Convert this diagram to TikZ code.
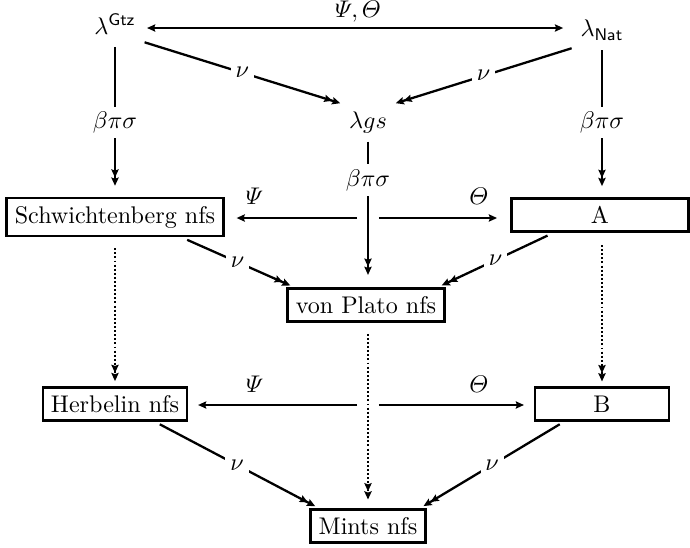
\documentclass[tikz,border=0pt]{standalone}
\usepackage{amsmath}
\usetikzlibrary{arrows.meta}
\tikzset{
  obj/.style={inner sep=3pt},
  nbox/.style={draw, line width=1.15pt, inner sep=3.33pt},
  tiptwo/.style={-{Stealth[length=3.4pt,width=3pt,inset=0.5pt]Stealth[length=3.4pt,width=3pt,inset=0.5pt]}},
  tipone/.style={-{Stealth[length=3.4pt,width=3pt,inset=0.5pt]}},
  arr/.style={line width=0.95pt},
  dotline/.style={line width=0.95pt, dash pattern=on 0.8pt off 0.9pt},
  lab/.style={fill=white, inner sep=2pt},
  olab/.style={inner sep=0pt},
}
\begin{document}
\begin{tikzpicture}[x=0.415pt,y=-0.415pt]
\path[use as bounding box] (0,0) rectangle (690,548);
% objects
\node[obj] (gtz) at (115,24) {$\lambda^{\mathsf{Gtz}}$};
\node[obj] (nat) at (602,30) {$\lambda_{\mathsf{Nat}}$};
\node[obj] (lgs) at (368,122) {$\lambda gs$};
\node[nbox] (schw) at (115,217) {Schwichtenberg nfs};
\node[nbox, minimum width=73.5pt, minimum height=13.6pt] (A) at (600,215) {A};
\node[nbox] (vp) at (366,305) {von Plato nfs};
\node[nbox] (herb) at (115,404) {Herbelin nfs};
\node[nbox, minimum width=55.6pt, minimum height=13.6pt] (B) at (602,404) {B};
\node[nbox] (mints) at (368,526) {Mints nfs};
\coordinate (c0) at (368,28);
\coordinate (c1) at (368,218);
\coordinate (c2) at (368,405);
% top arrow
\draw[arr,{Stealth[length=3.4pt,width=3pt,inset=0.5pt]}-{Stealth[length=3.4pt,width=3pt,inset=0.5pt]},shorten <=1.5pt,shorten >=4pt]
  (gtz.east |- c0) -- node[olab,above=2pt]{$\varPsi,\varTheta$} (nat.west |- c0);
% diagonals nu
\draw[arr,tiptwo,shorten <=0.5pt,shorten >=0.5pt] (gtz.south east) -- node[lab]{$\nu$} (lgs.north west);
\draw[arr,tiptwo,shorten <=0.5pt,shorten >=0.5pt] (nat.south west) -- node[lab]{$\nu$} (lgs.north east);
\draw[arr,tiptwo,shorten <=2.5pt,shorten >=1.5pt] (schw.-17) -- node[lab]{$\nu$} (vp.166);
\draw[arr,tiptwo,shorten <=2.5pt,shorten >=1.5pt] (A.201) -- node[lab]{$\nu$} (vp.14);
\draw[arr,tiptwo,shorten <=2pt,shorten >=1.5pt] (herb.-24) -- node[lab]{$\nu$} (mints.160);
\draw[arr,tiptwo,shorten <=2pt,shorten >=1.5pt] (B.205) -- node[lab]{$\nu$} (mints.19);
% verticals
\draw[arr,tiptwo,shorten <=2pt,shorten >=4.5pt] (gtz.south) -- node[lab,pos=0.52]{$\beta\pi\sigma$} (gtz.south |- schw.north);
\draw[arr,tiptwo,shorten <=1pt,shorten >=4.5pt] (nat.south) -- node[lab,pos=0.5]{$\beta\pi\sigma$} (nat.south |- A.north);
\draw[arr,tiptwo,shorten <=0.5pt,shorten >=5pt] (lgs.south) -- node[lab,pos=0.27]{$\beta\pi\sigma$} (lgs.south |- vp.north);
% dotted
\draw[dotline,tiptwo,shorten <=4.5pt,shorten >=2pt] (schw.south) -- (schw.south |- herb.north);
\draw[dotline,tiptwo,shorten <=4.5pt,shorten >=3.5pt] (vp.south -| c1) -- (c1 |- mints.north);
\draw[dotline,tiptwo,shorten <=5pt,shorten >=2pt] (nat.south |- A.south) -- (nat.south |- B.north);
% horizontals
\draw[arr,tipone,shorten <=4.5pt,shorten >=5pt] (c1) -- node[olab,above=5pt,pos=0.79]{$\varPsi$} (schw.east |- c1);
\draw[arr,tipone,shorten <=4.5pt,shorten >=5.4pt] (c1) -- node[olab,above=5pt,pos=0.78]{$\varTheta$} (A.west |- c1);
\draw[arr,tipone,shorten <=4.5pt,shorten >=4pt] (c2) -- node[olab,above=4.8pt,pos=0.63]{$\varPsi$} (herb.east |- c2);
\draw[arr,tipone,shorten <=4.5pt,shorten >=4pt] (c2) -- node[olab,above=4.8pt,pos=0.67]{$\varTheta$} (B.west |- c2);
\end{tikzpicture}
\end{document}
